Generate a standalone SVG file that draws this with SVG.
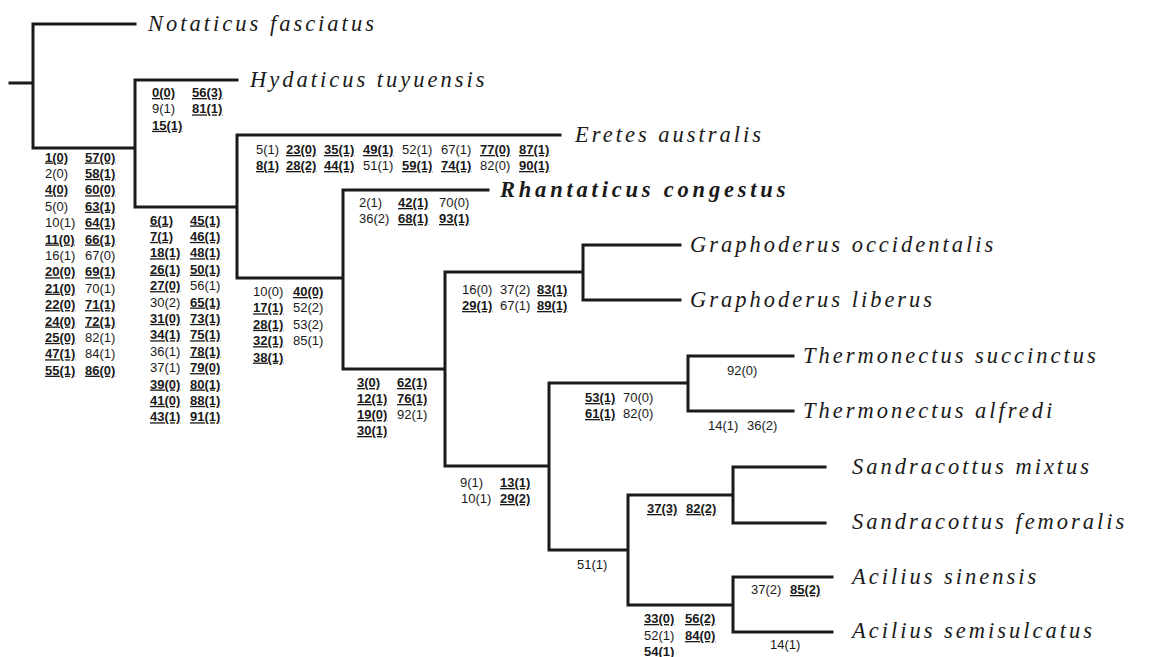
<svg xmlns="http://www.w3.org/2000/svg" width="1153" height="657" viewBox="0 0 1153 657">
<style>
.e{fill:none;stroke:#1a1a1a;stroke-width:3;stroke-linecap:square}
text{font-family:"Liberation Sans",Arial,sans-serif;font-size:13px;fill:#1a1a1a}
.b{font-weight:bold;text-decoration:underline}
.k{font-weight:bold}
.t{font-family:"Liberation Serif","Times New Roman",serif;font-style:italic;font-size:22.5px;letter-spacing:3px}
.tb{font-weight:bold;letter-spacing:3.8px}
</style>
<rect width="1153" height="657" fill="#fff"/>
<g id="connectors">
<path class="e" d="M10,83H33M33,24V148M33,24H135M33,148H135M135,80V207M135,80H237M135,207H237M237,135V278M237,135H560M237,278H343M343,190V369M343,190H488M343,369H445M445,272V466M445,272H583M583,245V300M583,245H680M583,300H680M445,466H549M549,383V550M549,383H688M688,356V411M688,356H793M688,411H793M549,550H628M628,495V605M628,495H733M733,467V523M733,467H825M733,523H825M628,605H733M733,577V632M733,577H832M733,632H832"/>
</g>
<g id="taxon-notaticus"><text class="t" x="148" y="31">Notaticus fasciatus</text></g>
<g id="taxon-hydaticus"><text class="t" x="250" y="87">Hydaticus tuyuensis</text></g>
<g id="taxon-eretes"><text class="t" x="575" y="142">Eretes australis</text></g>
<g id="taxon-rhantaticus"><text class="t tb" x="500" y="197">Rhantaticus congestus</text></g>
<g id="taxon-graphoderus-occ"><text class="t" x="690" y="252">Graphoderus occidentalis</text></g>
<g id="taxon-graphoderus-lib"><text class="t" x="690" y="307">Graphoderus liberus</text></g>
<g id="taxon-thermonectus-suc"><text class="t" x="803" y="363">Thermonectus succinctus</text></g>
<g id="taxon-thermonectus-alf"><text class="t" x="803" y="418">Thermonectus alfredi</text></g>
<g id="taxon-sandracottus-mix"><text class="t" x="852" y="474">Sandracottus mixtus</text></g>
<g id="taxon-sandracottus-fem"><text class="t" x="852" y="529">Sandracottus femoralis</text></g>
<g id="taxon-acilius-sin"><text class="t" x="852" y="584">Acilius sinensis</text></g>
<g id="taxon-acilius-sem"><text class="t" x="852" y="638">Acilius semisulcatus</text></g>

<g id="node-root">
<text class="b" x="45" y="161.5">1(0)</text><text class="b" x="85" y="161.5">57(0)</text>
<text x="45" y="177.9">2(0)</text><text class="b" x="85" y="177.9">58(1)</text>
<text class="b" x="45" y="194.3">4(0)</text><text class="b" x="85" y="194.3">60(0)</text>
<text x="45" y="210.7">5(0)</text><text class="b" x="85" y="210.7">63(1)</text>
<text x="45" y="227.1">10(1)</text><text class="b" x="85" y="227.1">64(1)</text>
<text class="b" x="45" y="243.5">11(0)</text><text class="b" x="85" y="243.5">66(1)</text>
<text x="45" y="259.9">16(1)</text><text x="85" y="259.9">67(0)</text>
<text class="b" x="45" y="276.3">20(0)</text><text class="b" x="85" y="276.3">69(1)</text>
<text class="b" x="45" y="292.7">21(0)</text><text x="85" y="292.7">70(1)</text>
<text class="b" x="45" y="309.1">22(0)</text><text class="b" x="85" y="309.1">71(1)</text>
<text class="b" x="45" y="325.5">24(0)</text><text class="b" x="85" y="325.5">72(1)</text>
<text class="b" x="45" y="341.9">25(0)</text><text x="85" y="341.9">82(1)</text>
<text class="b" x="45" y="358.3">47(1)</text><text x="85" y="358.3">84(1)</text>
<text class="b" x="45" y="374.7">55(1)</text><text class="b" x="85" y="374.7">86(0)</text>
</g>
<g id="node-hydaticus">
<text class="b" x="152" y="97">0(0)</text><text class="b" x="192" y="97">56(3)</text>
<text x="152" y="113.4">9(1)</text><text class="b" x="192" y="113.4">81(1)</text>
<text class="b" x="152" y="129.8">15(1)</text>
</g>
<g id="node-a">
<text class="b" x="150" y="224.5">6(1)</text><text class="b" x="190" y="224.5">45(1)</text>
<text class="b" x="150" y="240.9">7(1)</text><text class="b" x="190" y="240.9">46(1)</text>
<text class="b" x="150" y="257.3">18(1)</text><text class="b" x="190" y="257.3">48(1)</text>
<text class="b" x="150" y="273.7">26(1)</text><text class="b" x="190" y="273.7">50(1)</text>
<text class="b" x="150" y="290.1">27(0)</text><text x="190" y="290.1">56(1)</text>
<text x="150" y="306.5">30(2)</text><text class="b" x="190" y="306.5">65(1)</text>
<text class="b" x="150" y="322.9">31(0)</text><text class="b" x="190" y="322.9">73(1)</text>
<text class="b" x="150" y="339.3">34(1)</text><text class="b" x="190" y="339.3">75(1)</text>
<text x="150" y="355.7">36(1)</text><text class="b" x="190" y="355.7">78(1)</text>
<text x="150" y="372.1">37(1)</text><text class="b" x="190" y="372.1">79(0)</text>
<text class="b" x="150" y="388.5">39(0)</text><text class="b" x="190" y="388.5">80(1)</text>
<text class="b" x="150" y="404.9">41(0)</text><text class="b" x="190" y="404.9">88(1)</text>
<text class="b" x="150" y="421.3">43(1)</text><text class="b" x="190" y="421.3">91(1)</text>
</g>
<g id="node-eretes">
<text x="256" y="154">5(1)</text><text class="b" x="286" y="154">23(0)</text><text class="b" x="324" y="154">35(1)</text><text class="b" x="363" y="154">49(1)</text><text x="402" y="154">52(1)</text><text x="441" y="154">67(1)</text><text class="b" x="480" y="154">77(0)</text><text class="b" x="519" y="154">87(1)</text>
<text class="b" x="256" y="170">8(1)</text><text class="b" x="286" y="170">28(2)</text><text class="b" x="324" y="170">44(1)</text><text x="363" y="170">51(1)</text><text class="b" x="402" y="170">59(1)</text><text class="b" x="441" y="170">74(1)</text><text x="480" y="170">82(0)</text><text class="b" x="519" y="170">90(1)</text>
</g>
<g id="node-b">
<text x="253" y="296">10(0)</text><text class="b" x="293" y="296">40(0)</text>
<text class="b" x="253" y="312.4">17(1)</text><text x="293" y="312.4">52(2)</text>
<text class="b" x="253" y="328.8">28(1)</text><text x="293" y="328.8">53(2)</text>
<text class="b" x="253" y="345.2">32(1)</text><text x="293" y="345.2">85(1)</text>
<text class="b" x="253" y="361.6">38(1)</text>
</g>
<g id="node-rhantaticus">
<text x="359" y="207">2(1)</text><text class="b" x="398" y="207">42(1)</text><text x="439" y="207">70(0)</text>
<text x="359" y="223">36(2)</text><text class="b" x="398" y="223">68(1)</text><text class="b" x="439" y="223">93(1)</text>
</g>
<g id="node-c">
<text class="b" x="357" y="387">3(0)</text><text class="b" x="397" y="387">62(1)</text>
<text class="b" x="357" y="403">12(1)</text><text class="b" x="397" y="403">76(1)</text>
<text class="b" x="357" y="419">19(0)</text><text x="397" y="419">92(1)</text>
<text class="b" x="357" y="435">30(1)</text>
</g>
<g id="node-graphoderus">
<text x="462" y="294">16(0)</text><text x="500" y="294">37(2)</text><text class="b" x="537" y="294">83(1)</text>
<text class="b" x="462" y="310">29(1)</text><text x="500" y="310">67(1)</text><text class="b" x="537" y="310">89(1)</text>
</g>
<g id="node-d">
<text x="460" y="487">9(1)</text><text class="b" x="500" y="487">13(1)</text>
<text x="461" y="503">10(1)</text><text class="b" x="500" y="503">29(2)</text>
</g>
<g id="node-thermonectus">
<text class="b" x="585" y="402">53(1)</text><text x="623" y="402">70(0)</text>
<text class="b" x="585" y="418">61(1)</text><text x="623" y="418">82(0)</text>
</g>
<g id="node-thermonectus-suc"><text x="727" y="375">92(0)</text></g>
<g id="node-thermonectus-alf"><text x="708" y="430">14(1)</text><text x="747" y="430">36(2)</text></g>
<g id="node-e"><text x="577" y="569">51(1)</text></g>
<g id="node-sandracottus"><text class="b" x="647" y="513">37(3)</text><text class="b" x="686" y="513">82(2)</text></g>
<g id="node-acilius">
<text class="b" x="644" y="623">33(0)</text><text class="b" x="685" y="623">56(2)</text>
<text x="644" y="640">52(1)</text><text class="b" x="685" y="640">84(0)</text>
<text class="k" x="644" y="656">54(1)</text>
</g>
<g id="node-acilius-sin"><text x="751" y="594">37(2)</text><text class="b" x="790" y="594">85(2)</text></g>
<g id="node-acilius-sem"><text x="770" y="649">14(1)</text></g>
</svg>
